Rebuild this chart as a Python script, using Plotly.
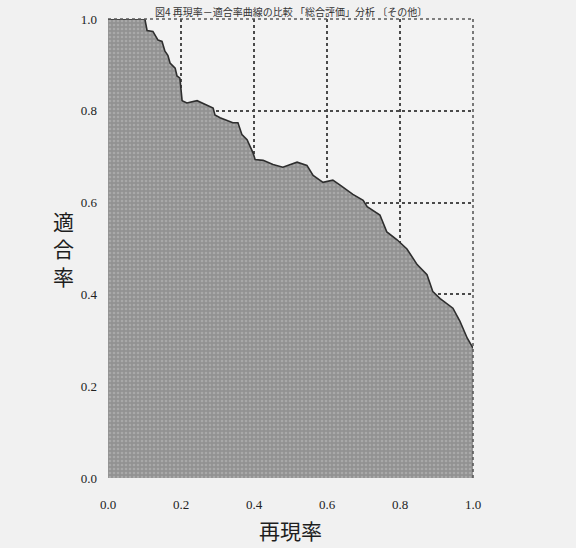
import plotly.graph_objects as go

# Recall (再現率) and precision (適合率)
recall = [0.0, 0.101, 0.107, 0.123, 0.137, 0.148, 0.156, 0.164, 0.170, 0.184, 0.189, 0.197,
          0.203, 0.216, 0.244, 0.271, 0.288, 0.293, 0.307, 0.342, 0.356, 0.367, 0.381, 0.397,
          0.403, 0.425, 0.452, 0.479, 0.518, 0.545, 0.562, 0.589, 0.616, 0.636, 0.671, 0.699,
          0.710, 0.745, 0.764, 0.792, 0.819, 0.847, 0.874, 0.890, 0.910, 0.945, 0.964, 0.984, 1.0]
precision = [1.0, 1.0, 0.975, 0.973, 0.954, 0.951, 0.930, 0.921, 0.904, 0.893, 0.876, 0.871,
             0.822, 0.817, 0.822, 0.813, 0.806, 0.791, 0.785, 0.774, 0.774, 0.748, 0.737, 0.709,
             0.694, 0.692, 0.683, 0.677, 0.688, 0.681, 0.659, 0.644, 0.649, 0.638, 0.618, 0.605,
             0.591, 0.573, 0.536, 0.519, 0.499, 0.465, 0.443, 0.406, 0.391, 0.370, 0.342, 0.305, 0.283]

tick_vals = [0.0, 0.2, 0.4, 0.6, 0.8, 1.0]
tick_text = ["0.0", "0.2", "0.4", "0.6", "0.8", "1.0"]

x_title = "再現率"
y_title = "適<br>合<br>率"
top_text = "図4 再現率－適合率曲線の比較 「総合評価」分析 〔その他〕"

fig = go.Figure()
fig.add_trace(go.Scatter(
    x=recall, y=precision, mode="lines",
    line=dict(color="#2e2e2e", width=1.6, shape="linear"),
    fill="tozeroy",
    fillcolor="#979797",
    fillpattern=dict(shape=".", bgcolor="#929292", fgcolor="#c0c0c0", size=4, solidity=0.35),
    hoverinfo="skip", showlegend=False,
))

axis_common = dict(
    range=[0, 1], tickvals=tick_vals, ticktext=tick_text,
    showgrid=True, gridcolor="#4a4a4a", gridwidth=1.6, griddash="dot",
    zeroline=False, showline=False, ticks="",
    tickfont=dict(family="Liberation Serif", size=13, color="#222222"),
)
fig.update_xaxes(**axis_common, ticklabelstandoff=17)
fig.update_yaxes(**axis_common, ticklabelstandoff=10)

# dotted frame on top and right
fig.add_shape(type="line", xref="paper", yref="paper", x0=0, x1=1, y0=1, y1=1,
              line=dict(color="#5a5a5a", width=1.6, dash="dot"), layer="above")
fig.add_shape(type="line", xref="paper", yref="paper", x0=1, x1=1, y0=0, y1=1,
              line=dict(color="#5a5a5a", width=1.6, dash="dot"), layer="above")

fig.add_annotation(text=x_title, xref="paper", yref="paper", x=0.5, y=0, yshift=-52,
                   yanchor="middle", showarrow=False,
                   font=dict(family="Noto Sans CJK JP", size=21, color="#1e1e1e"))
fig.add_annotation(text=y_title, xref="paper", yref="paper", x=0, xshift=-45, y=0.5,
                   xanchor="center", showarrow=False,
                   font=dict(family="Noto Sans CJK JP", size=21, color="#1e1e1e"))
fig.add_annotation(text=top_text, xref="paper", yref="paper", x=0.5, y=1, yshift=17,
                   yanchor="top", showarrow=False,
                   font=dict(family="Noto Sans CJK JP", size=10, color="#333333"))

fig.update_layout(
    width=576, height=548, autosize=False,
    margin=dict(l=108, r=103, t=15, b=70),
    paper_bgcolor="#f1f1f1", plot_bgcolor="#f3f3f3",
)

fig.write_html("out.html")
